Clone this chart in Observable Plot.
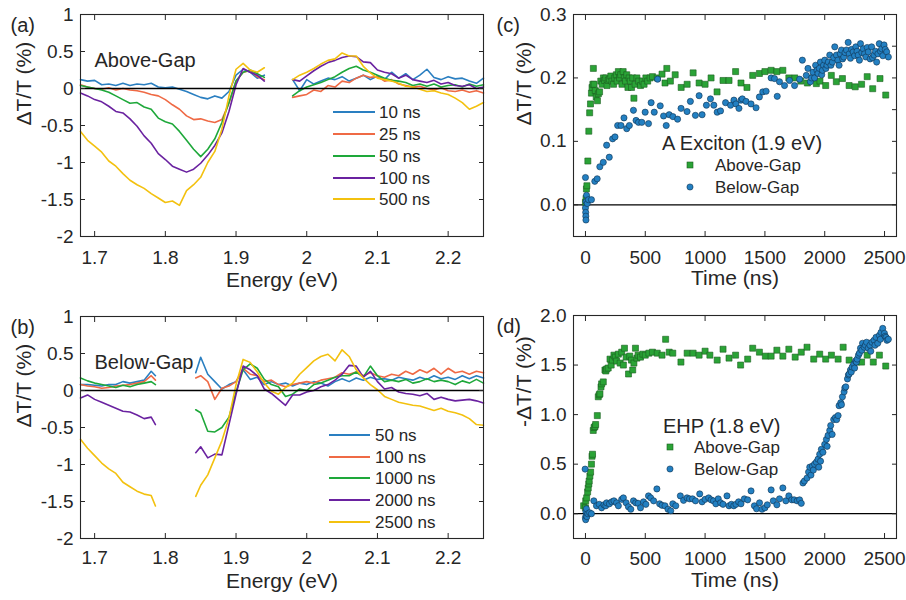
<!DOCTYPE html>
<html><head><meta charset="utf-8">
<script src="https://cdn.jsdelivr.net/npm/d3@7"></script>
<script src="https://cdn.jsdelivr.net/npm/@observablehq/plot@0.6"></script>
<style>
html,body{margin:0;padding:0;background:#fff;}
#wrap{position:relative;width:906px;height:600px;overflow:hidden;background:#fff;}
</style></head><body><div id="wrap"></div>
<script>
// ---------- Panel (a): Above-Gap spectra ----------
const energyA = [1.68,1.69,1.70,1.71,1.72,1.73,1.74,1.75,1.76,1.77,1.78,1.79,1.80,1.81,1.82,1.83,1.84,1.85,1.86,1.87,1.88,1.89,1.90,1.91,1.92,1.93,1.94,
  1.96,
  1.98,1.99,2.00,2.01,2.02,2.03,2.04,2.05,2.06,2.07,2.08,2.09,2.10,2.11,2.12,2.13,2.14,2.15,2.16,2.17,2.18,2.19,2.20,2.21,2.22,2.23,2.24,2.25];
const namesA = ["10 ns","25 ns","50 ns","100 ns","500 ns"];
const a10ns = [0.12,0.10,0.11,0.05,0.06,0.04,0.07,0.04,0.06,0.05,0.07,0.02,0.01,0.02,-0.01,-0.04,-0.08,-0.12,-0.14,-0.10,-0.13,-0.04,0.18,0.26,0.22,0.14,0.18,
  null,
  0.12,-0.03,0.12,0.06,0.10,0.14,0.12,0.16,0.10,0.14,0.18,0.12,0.17,0.12,0.22,0.14,0.20,0.12,0.18,0.26,0.15,0.12,0.16,0.13,0.14,0.10,0.07,0.14];
const a25ns = [0.05,0.02,0.00,-0.01,0.01,-0.02,0.00,-0.02,-0.03,-0.05,-0.08,-0.10,-0.15,-0.22,-0.28,-0.37,-0.42,-0.41,-0.44,-0.46,-0.42,-0.20,0.10,0.22,0.24,0.16,0.12,
  null,
  -0.12,-0.10,-0.08,-0.02,-0.04,0.04,0.02,0.10,0.08,0.14,0.18,0.15,0.16,0.10,0.12,0.06,0.04,0.02,0.03,0.00,-0.02,0.01,-0.03,-0.04,-0.02,-0.05,-0.03,-0.06];
const a50ns = [0.04,0.02,0.00,-0.02,-0.05,-0.10,-0.15,-0.20,-0.19,-0.25,-0.28,-0.40,-0.45,-0.48,-0.58,-0.70,-0.82,-0.92,-0.82,-0.68,-0.46,-0.19,0.10,0.22,0.25,0.20,0.15,
  null,
  -0.10,-0.03,0.02,0.05,0.08,0.12,0.16,0.22,0.27,0.30,0.25,0.22,0.18,0.14,0.11,0.10,0.08,0.04,0.06,0.03,0.06,0.02,0.04,0.05,0.02,0.06,0.03,0.05];
const a100ns = [-0.06,-0.10,-0.15,-0.18,-0.24,-0.31,-0.33,-0.41,-0.51,-0.64,-0.74,-0.88,-0.96,-1.05,-1.09,-1.13,-1.09,-1.01,-0.90,-0.77,-0.60,-0.31,0.05,0.27,0.22,0.18,0.10,
  null,
  0.12,0.10,0.17,0.24,0.30,0.35,0.38,0.42,0.44,0.43,0.36,0.35,0.25,0.22,0.20,0.14,0.18,0.12,0.10,0.08,0.11,0.06,0.08,0.04,0.03,0.05,0.00,0.02];
const a500ns = [-0.58,-0.70,-0.78,-0.86,-0.98,-1.05,-1.15,-1.24,-1.30,-1.35,-1.42,-1.48,-1.54,-1.52,-1.58,-1.38,-1.30,-1.20,-1.00,-0.85,-0.55,-0.10,0.26,0.34,0.25,0.22,0.28,
  null,
  0.12,0.18,0.22,0.27,0.33,0.38,0.40,0.48,0.44,0.44,0.30,0.21,0.14,0.12,0.10,0.07,0.03,0.02,-0.01,-0.04,-0.03,-0.06,-0.08,-0.13,-0.19,-0.28,-0.24,-0.19];

// ---------- Panel (b): Below-Gap spectra ----------
const energyB = [1.68,1.69,1.70,1.71,1.72,1.73,1.74,1.75,1.76,1.77,1.78,1.786,
  1.815,
  1.843,1.85,1.86,1.87,1.88,1.89,1.90,
  1.91,1.92,1.93,1.94,1.95,1.96,1.97,1.98,1.99,2.00,
  2.01,2.02,2.03,2.04,2.05,2.06,2.07,2.08,2.09,2.10,
  2.11,2.12,2.13,2.14,2.15,2.16,2.17,2.18,2.19,2.20,
  2.21,2.22,2.23,2.24,2.25];
const namesB = ["50 ns","100 ns","1000 ns","2000 ns","2500 ns"];
const b50ns = [0.08,0.08,0.07,0.06,0.08,0.08,0.12,0.10,0.12,0.14,0.26,0.20,
  null,
  0.24,0.45,0.22,0.12,0.02,0.08,0.12,
  0.28,0.15,0.18,0.08,0.12,0.08,0.10,0.06,0.10,0.08,
  0.12,0.10,0.06,0.12,0.16,0.12,0.17,0.14,0.18,0.15,
  0.16,0.14,0.18,0.16,0.14,0.18,0.15,0.20,0.16,0.18,
  0.15,0.20,0.16,0.20,0.17];
const b100ns = [0.08,0.06,0.05,0.03,0.04,0.06,0.07,0.08,0.10,0.12,0.20,0.14,
  null,
  0.17,0.20,0.12,-0.12,0.03,0.06,0.12,
  0.30,0.22,0.20,0.12,0.14,0.08,0.05,0.08,0.10,0.12,
  0.10,0.14,0.16,0.18,0.24,0.22,0.25,0.20,0.24,0.20,
  0.18,0.22,0.20,0.26,0.22,0.28,0.24,0.30,0.22,0.30,
  0.24,0.26,0.22,0.26,0.24];
const b1000ns = [0.17,0.13,0.10,0.08,0.06,0.04,0.07,0.05,0.08,0.10,0.12,0.08,
  null,
  -0.26,-0.30,-0.55,-0.56,-0.50,-0.36,-0.02,
  0.28,0.36,0.30,0.15,0.08,0.05,-0.08,-0.05,0.02,0.00,
  0.08,0.10,0.14,0.18,0.20,0.20,0.25,0.18,0.33,0.20,
  0.12,0.14,0.12,0.15,0.10,0.12,0.16,0.12,0.14,0.12,
  0.08,0.13,0.10,0.15,0.10];
const b2000ns = [-0.10,-0.06,-0.12,-0.16,-0.20,-0.24,-0.28,-0.29,-0.33,-0.38,-0.36,-0.46,
  null,
  -0.84,-0.76,-0.91,-0.86,-0.87,-0.46,-0.05,
  0.33,0.28,0.20,0.02,-0.04,-0.12,-0.20,-0.06,-0.06,-0.02,
  0.00,0.05,0.08,0.14,0.22,0.34,0.33,0.18,0.26,0.12,
  0.02,0.04,-0.02,-0.04,-0.05,-0.07,-0.04,-0.12,-0.09,-0.12,
  -0.14,-0.13,-0.12,-0.14,-0.17];
const b2500ns = [-0.66,-0.78,-0.88,-0.98,-1.06,-1.12,-1.24,-1.30,-1.36,-1.40,-1.42,-1.56,
  null,
  -1.43,-1.28,-1.14,-0.91,-0.68,-0.37,0.08,
  0.42,0.38,0.25,0.10,-0.01,-0.05,0.04,0.10,0.22,0.31,
  0.40,0.46,0.49,0.40,0.55,0.46,0.28,0.17,0.08,0.01,
  -0.08,-0.12,-0.16,-0.18,-0.20,-0.21,-0.24,-0.27,-0.24,-0.28,
  -0.30,-0.33,-0.38,-0.46,-0.47];

// ---------- Panel (c): A exciton (1.9 eV) kinetics, [time ns, dT/T %] ----------
const cAboveGap = [[0,0.004],[5,0.01],[8,0.025],[12,0.03],[20,0.069],[28,0.116],[35,0.145],[42,0.159],[50,0.176],[55,0.185],[62,0.19],[66,0.215],[72,0.19],[82,0.18],[90,0.17],[100,0.164],[108,0.175],[118,0.178],[128,0.195],[140,0.19],[150,0.2],[160,0.196],[170,0.2],[180,0.188],[190,0.196],[200,0.198],[212,0.203],[222,0.195],[235,0.19],[245,0.2],[258,0.205],[265,0.195],[275,0.21],[285,0.2],[295,0.205],[305,0.19],[315,0.21],[325,0.2],[335,0.195],[345,0.205],[355,0.185],[365,0.2],[375,0.195],[385,0.185],[395,0.2],[405,0.168],[415,0.19],[430,0.2],[445,0.195],[460,0.188],[475,0.195],[490,0.19],[505,0.2],[520,0.195],[540,0.2],[560,0.202],[600,0.2],[640,0.206],[665,0.192],[680,0.215],[710,0.195],[750,0.205],[800,0.185],[850,0.19],[900,0.208],[950,0.192],[1000,0.19],[1050,0.2],[1100,0.178],[1150,0.196],[1200,0.196],[1255,0.21],[1300,0.192],[1350,0.185],[1398,0.204],[1454,0.207],[1500,0.21],[1552,0.212],[1600,0.21],[1650,0.212],[1700,0.2],[1750,0.2],[1800,0.195],[1855,0.192],[1900,0.2],[1930,0.191],[1960,0.195],[2008,0.188],[2055,0.204],[2097,0.194],[2148,0.199],[2204,0.188],[2255,0.186],[2308,0.19],[2355,0.202],[2401,0.183],[2462,0.199],[2510,0.173]];
const cBelowGap = [[0,0.043],[0,-0.005],[2,-0.012],[3,-0.018],[4,-0.024],[5,0.005],[9,0.015],[15,0.002],[25,0.008],[50,0.008],[78,0.037],[98,0.041],[120,0.06],[149,0.067],[177,0.094],[199,0.075],[227,0.104],[247,0.107],[269,0.125],[297,0.125],[322,0.137],[345,0.12],[367,0.125],[401,0.149],[423,0.133],[443,0.13],[471,0.13],[499,0.146],[527,0.128],[549,0.161],[575,0.146],[603,0.198],[625,0.156],[653,0.14],[675,0.125],[700,0.142],[731,0.139],[770,0.135],[799,0.152],[849,0.147],[877,0.163],[919,0.141],[950,0.172],[975,0.142],[1011,0.157],[1045,0.167],[1073,0.157],[1101,0.146],[1129,0.148],[1171,0.161],[1213,0.157],[1241,0.165],[1258,0.159],[1283,0.152],[1300,0.165],[1311,0.167],[1342,0.163],[1384,0.159],[1426,0.153],[1454,0.17],[1482,0.178],[1510,0.179],[1552,0.2],[1580,0.199],[1603,0.171],[1622,0.194],[1664,0.188],[1706,0.196],[1748,0.188],[1790,0.198],[1813,0.228],[1846,0.204],[1860,0.215],[1880,0.194],[1890,0.2],[1902,0.209],[1915,0.2],[1924,0.22],[1935,0.212],[1944,0.207],[1955,0.215],[1964,0.225],[1975,0.205],[1981,0.212],[1990,0.22],[2000,0.228],[2010,0.215],[2019,0.22],[2030,0.225],[2042,0.236],[2052,0.22],[2064,0.225],[2075,0.232],[2084,0.249],[2098,0.236],[2110,0.228],[2120,0.22],[2130,0.238],[2140,0.244],[2150,0.23],[2159,0.233],[2170,0.24],[2182,0.244],[2196,0.256],[2205,0.238],[2215,0.231],[2225,0.245],[2238,0.241],[2250,0.235],[2260,0.249],[2270,0.242],[2280,0.236],[2290,0.228],[2299,0.254],[2310,0.24],[2322,0.246],[2333,0.238],[2344,0.233],[2355,0.248],[2364,0.241],[2380,0.23],[2392,0.249],[2400,0.232],[2412,0.236],[2425,0.242],[2434,0.225],[2445,0.238],[2456,0.254],[2466,0.242],[2476,0.246],[2486,0.235],[2496,0.252],[2506,0.245],[2518,0.241],[2532,0.233]];

// ---------- Panel (d): EHP (1.8 eV) kinetics, [time ns, -dT/T %] ----------
const dAboveGap = [[-15,0.08],[0,0.06],[2,0.13],[10,0.16],[18,0.22],[23,0.26],[28,0.3],[31,0.33],[37,0.38],[43,0.42],[50,0.5],[55,0.58],[59,0.6],[65,0.84],[72,0.87],[80,0.88],[85,0.9],[99,0.99],[107,1.18],[115,1.2],[121,1.21],[130,1.28],[135,1.31],[149,1.33],[163,1.45],[170,1.44],[177,1.46],[190,1.47],[205,1.56],[215,1.5],[225,1.55],[238,1.6],[250,1.58],[260,1.54],[275,1.61],[290,1.52],[303,1.63],[317,1.5],[326,1.67],[340,1.58],[360,1.41],[370,1.59],[385,1.55],[395,1.45],[405,1.52],[418,1.67],[430,1.57],[440,1.6],[460,1.58],[480,1.61],[500,1.6],[530,1.62],[560,1.63],[600,1.62],[640,1.6],[670,1.76],[700,1.63],[730,1.62],[798,1.53],[850,1.62],[900,1.62],[950,1.6],[1000,1.64],[1040,1.6],[1101,1.55],[1150,1.66],[1200,1.57],[1255,1.6],[1297,1.5],[1356,1.56],[1398,1.67],[1454,1.63],[1504,1.59],[1552,1.59],[1600,1.65],[1650,1.59],[1700,1.66],[1753,1.58],[1804,1.63],[1852,1.68],[1908,1.56],[1958,1.61],[2008,1.56],[2056,1.6],[2112,1.56],[2154,1.68],[2204,1.55],[2266,1.53],[2308,1.53],[2355,1.6],[2406,1.53],[2457,1.6],[2510,1.49]];
const dBelowGap = [[-3,0.45],[0,-0.04],[2,-0.06],[4,0.02],[6,-0.02],[8,0.05],[12,-0.03],[20,0.0],[35,0.01],[50,0.0],[70,0.13],[92,0.08],[115,0.095],[135,0.06],[155,0.09],[170,0.08],[177,0.11],[200,0.1],[220,0.12],[238,0.13],[260,0.11],[275,0.08],[303,0.145],[317,0.16],[340,0.11],[359,0.07],[379,0.045],[401,0.13],[420,0.11],[440,0.105],[460,0.06],[485,0.12],[505,0.095],[527,0.18],[545,0.16],[570,0.13],[597,0.25],[620,0.1],[640,0.085],[665,0.08],[690,0.045],[713,0.03],[730,0.1],[755,0.08],[793,0.18],[820,0.135],[849,0.16],[870,0.15],[895,0.15],[920,0.13],[955,0.2],[975,0.12],[1000,0.145],[1030,0.16],[1050,0.14],[1070,0.13],[1090,0.1],[1110,0.15],[1130,0.11],[1150,0.095],[1183,0.18],[1200,0.08],[1220,0.095],[1240,0.08],[1258,0.095],[1280,0.12],[1300,0.1],[1328,0.15],[1356,0.14],[1384,0.23],[1412,0.08],[1430,0.05],[1455,0.11],[1476,0.045],[1500,0.06],[1520,0.09],[1552,0.24],[1570,0.13],[1600,0.09],[1622,0.15],[1650,0.26],[1675,0.13],[1700,0.18],[1725,0.14],[1745,0.14],[1770,0.13],[1790,0.14],[1804,0.105],[1818,0.31],[1830,0.33],[1852,0.36],[1865,0.42],[1875,0.47],[1885,0.39],[1897,0.48],[1905,0.44],[1915,0.5],[1930,0.52],[1944,0.55],[1950,0.47],[1958,0.6],[1965,0.53],[1972,0.65],[1985,0.62],[2000,0.7],[2014,0.75],[2020,0.68],[2028,0.79],[2042,0.84],[2050,0.89],[2062,0.8],[2075,0.95],[2089,0.97],[2100,0.95],[2112,0.99],[2120,1.09],[2134,1.12],[2140,1.1],[2148,1.18],[2162,1.23],[2168,1.27],[2176,1.28],[2190,1.36],[2198,1.4],[2204,1.41],[2215,1.45],[2222,1.43],[2229,1.48],[2243,1.51],[2250,1.47],[2257,1.54],[2265,1.53],[2271,1.56],[2282,1.6],[2290,1.62],[2299,1.67],[2310,1.65],[2316,1.72],[2330,1.68],[2340,1.7],[2350,1.73],[2364,1.67],[2378,1.7],[2385,1.64],[2395,1.73],[2412,1.75],[2420,1.7],[2429,1.78],[2443,1.72],[2457,1.8],[2465,1.76],[2471,1.83],[2485,1.87],[2499,1.82],[2505,1.79],[2513,1.78],[2520,1.75],[2532,1.76]];

// ---------- ticks ----------
const energyTicks = [1.7,1.8,1.9,2.0,2.1,2.2];
const spectraYTicks = [1,0.5,0,-0.5,-1,-1.5,-2];
const timeTicks = [0,500,1000,1500,2000,2500];
const cYTicks = [0,0.1,0.2,0.3];
const cYTicksRight = [0,0.05,0.1,0.15,0.2,0.25,0.3];
const dYTicks = [0,0.5,1,1.5,2];

// ---------- styles ----------
const FONT = '"Liberation Sans", Arial, sans-serif';
const INK = "#262626";
const lineColors = ["#2a7fc1","#ef6a45","#1ea83a","#6a22a0","#f3c10f"];
const greenFill = "#2aa336", greenEdge = "#1b5e20";
const blueFill = "#2380c2", blueEdge = "#0f3350";

function tidy(energy, names, series) {
  const rows = [];
  series.forEach((vals, i) => vals.forEach((v, j) => rows.push({E: energy[j], v, s: names[i]})));
  return rows;
}

function makePanel(o) {
  const marks = [];
  if (o.ruleFirst) marks.push(Plot.ruleY([0], {stroke: "#000", strokeWidth: 1.3}));
  marks.push(...o.marks);
  if (!o.ruleFirst) marks.push(Plot.ruleY([0], {stroke: "#000", strokeWidth: 1.3}));
  marks.push(
    Plot.frame({stroke: INK, strokeWidth: 1.1}),
    Plot.axisX(o.xTicks, {anchor: "bottom", tickSize: -5, tickPadding: o.xPad, tickFormat: o.xFmt, label: null, stroke: INK, fill: INK}),
    Plot.axisX(o.xTicks, {anchor: "top", tickSize: -5, fill: "none", tickFormat: () => "", stroke: INK, label: null}),
    Plot.axisY(o.yTicks, {anchor: "left", tickSize: -5, tickPadding: 12, tickFormat: o.yFmt, label: null, stroke: INK, fill: INK}),
    Plot.axisY(o.yTicksRight, {anchor: "right", tickSize: -5, fill: "none", tickFormat: () => "", stroke: INK, label: null}),
    Plot.text([o.xLabel], {frameAnchor: "bottom", dy: o.xLabelDy, fontSize: 21, fill: INK}),
    Plot.text([o.yLabel], {frameAnchor: "left", rotate: -90, dx: o.yLabelDx, fontSize: 21, fill: INK}),
    Plot.text([o.tag], {frameAnchor: "top-left", textAnchor: "start", dx: o.tagDx, dy: 3, fontSize: 20, fill: INK})
  );
  if (o.note) marks.push(Plot.text([o.note], {frameAnchor: "top-left", textAnchor: "start", dx: 14, dy: 38, fontSize: 20, fill: INK}));
  const svg = Plot.plot({
    width: o.width, height: o.height,
    marginLeft: o.margin[0], marginRight: o.margin[1], marginTop: o.margin[2], marginBottom: o.margin[3],
    x: {domain: o.xDomain},
    y: {domain: o.yDomain},
    color: o.color,
    style: {fontFamily: FONT, fontSize: "19px", color: INK, background: "transparent", overflow: "visible"},
    marks
  });
  svg.style.position = "absolute";
  svg.style.left = o.left + "px";
  svg.style.top = o.top + "px";
  document.getElementById("wrap").appendChild(svg);
  return svg;
}

function lineLegend(svg, names, x0, x1, xt, ys) {
  const g = d3.select(svg).append("g").attr("font-family", FONT).attr("font-size", 17)
    .attr("fill", INK).attr("text-anchor", "start");
  names.forEach((n, i) => {
    g.append("line").attr("x1", x0).attr("x2", x1).attr("y1", ys[i]).attr("y2", ys[i])
      .attr("stroke", lineColors[i]).attr("stroke-width", 1.8);
    g.append("text").attr("x", xt).attr("y", ys[i]).attr("dy", "0.35em").text(n);
  });
}

function dotLegend(svg, title, tx, ty, mx, xt, y1, y2) {
  const g = d3.select(svg).append("g").attr("font-family", FONT).attr("fill", INK).attr("text-anchor", "start");
  g.append("text").attr("x", tx).attr("y", ty).attr("dy", "0.35em").attr("font-size", 20).text(title);
  g.append("rect").attr("x", mx - 3).attr("y", y1 - 3).attr("width", 6).attr("height", 6)
    .attr("fill", greenFill).attr("stroke", greenEdge).attr("stroke-width", 0.6);
  g.append("text").attr("x", xt).attr("y", y1).attr("dy", "0.35em").attr("font-size", 17).text("Above-Gap");
  g.append("circle").attr("cx", mx).attr("cy", y2).attr("r", 3.1)
    .attr("fill", blueFill).attr("stroke", blueEdge).attr("stroke-width", 0.6);
  g.append("text").attr("x", xt).attr("y", y2).attr("dy", "0.35em").attr("font-size", 17).text("Below-Gap");
}

const eFmt = d => String(+d.toFixed(1));
const sFmt = d => String(d);

// (a)
const svgA = makePanel({
  left: 0, top: 0, width: 490, height: 300, margin: [80, 7, 14, 64],
  xDomain: [1.68, 2.25], yDomain: [-2, 1],
  color: {domain: namesA, range: lineColors},
  marks: [Plot.line(tidy(energyA, namesA, [a10ns, a25ns, a50ns, a100ns, a500ns]), {x: "E", y: "v", z: "s", stroke: "s", strokeWidth: 1.6})],
  xTicks: energyTicks, yTicks: spectraYTicks, yTicksRight: spectraYTicks, xFmt: eFmt, yFmt: sFmt, xPad: 19,
  xLabel: "Energy (eV)", xLabelDy: 50, yLabel: "ΔT/T (%)", yLabelDx: -56, tag: "(a)", tagDx: -70,
  note: "Above-Gap"
});
lineLegend(svgA, namesA, 333, 375, 379, [112, 134, 156, 178, 199]);

// (b)
const svgB = makePanel({
  left: 0, top: 300, width: 490, height: 300, margin: [80, 7, 16, 62],
  xDomain: [1.68, 2.25], yDomain: [-2, 1],
  color: {domain: namesB, range: lineColors},
  marks: [Plot.line(tidy(energyB, namesB, [b50ns, b100ns, b1000ns, b2000ns, b2500ns]), {x: "E", y: "v", z: "s", stroke: "s", strokeWidth: 1.6})],
  xTicks: energyTicks, yTicks: spectraYTicks, yTicksRight: spectraYTicks, xFmt: eFmt, yFmt: sFmt, xPad: 17,
  xLabel: "Energy (eV)", xLabelDy: 49, yLabel: "ΔT/T (%)", yLabelDx: -56, tag: "(b)", tagDx: -70,
  note: "Below-Gap"
});
lineLegend(svgB, namesB, 329, 370, 375, [135, 157, 178, 200, 222]);

// (c)
const svgC = makePanel({
  left: 490, top: 0, width: 416, height: 300, margin: [83, 10, 14, 64],
  xDomain: [-100, 2600], yDomain: [-0.05, 0.3], ruleFirst: true,
  marks: [
    Plot.dot(cAboveGap, {x: d => d[0], y: d => d[1], symbol: "square", r: 3.4, fill: greenFill, stroke: greenEdge, strokeWidth: 0.6}),
    Plot.dot(cBelowGap, {x: d => d[0], y: d => d[1], symbol: "circle", r: 3.1, fill: blueFill, stroke: blueEdge, strokeWidth: 0.6})
  ],
  xTicks: timeTicks, yTicks: cYTicks, yTicksRight: cYTicksRight, xFmt: sFmt, yFmt: d => d.toFixed(1), xPad: 19,
  xLabel: "Time (ns)", xLabelDy: 48, yLabel: "ΔT/T (%)", yLabelDx: -49, tag: "(c)", tagDx: -77
});
dotLegend(svgC, "A Exciton (1.9 eV)", 172, 143, 200, 225, 165, 187);

// (d)
const svgD = makePanel({
  left: 490, top: 300, width: 416, height: 300, margin: [83, 10, 15, 62],
  xDomain: [-100, 2600], yDomain: [-0.25, 2.0], ruleFirst: true,
  marks: [
    Plot.dot(dAboveGap, {x: d => d[0], y: d => d[1], symbol: "square", r: 3.4, fill: greenFill, stroke: greenEdge, strokeWidth: 0.6}),
    Plot.dot(dBelowGap, {x: d => d[0], y: d => d[1], symbol: "circle", r: 3.1, fill: blueFill, stroke: blueEdge, strokeWidth: 0.6})
  ],
  xTicks: timeTicks, yTicks: dYTicks, yTicksRight: dYTicks, xFmt: sFmt, yFmt: d => d.toFixed(1), xPad: 18,
  xLabel: "Time (ns)", xLabelDy: 48, yLabel: "-ΔT/T (%)", yLabelDx: -49, tag: "(d)", tagDx: -77
});
dotLegend(svgD, "EHP (1.8 eV)", 173, 126, 180, 204, 147, 169);
</script></body></html>
